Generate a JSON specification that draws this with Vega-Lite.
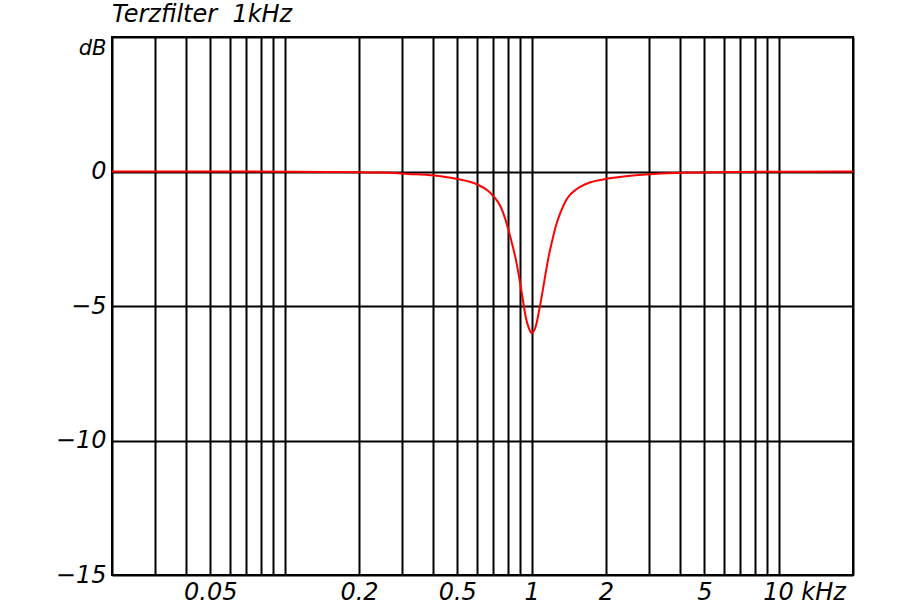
{
  "$schema": "https://vega.github.io/schema/vega-lite/v6.json",
  "autosize": "none",
  "width": 741,
  "height": 538,
  "padding": {"left": 112, "top": 37, "right": 59, "bottom": 33},
  "background": "white",
  "title": {
    "text": "Terzfilter \u00a01kHz",
    "anchor": "start",
    "frame": "group",
    "offset": 10,
    "font": "DejaVu Sans",
    "fontStyle": "italic",
    "fontWeight": "normal",
    "fontSize": 24,
    "color": "black"
  },
  "config": {
    "view": {"stroke": "black", "strokeWidth": 2},
    "axis": {
      "domain": false,
      "ticks": false,
      "grid": true,
      "gridColor": "black",
      "gridWidth": 2,
      "gridOpacity": 1,
      "labelFont": "DejaVu Sans",
      "labelFontStyle": "italic",
      "labelFontSize": 24,
      "labelColor": "black",
      "labelOverlap": false,
      "labelFlush": false,
      "title": null
    }
  },
  "data": {
    "values": [
      {"f": 0.02, "db": 0},
      {"f": 0.05, "db": 0},
      {"f": 0.1, "db": -0.006},
      {"f": 0.15, "db": -0.015},
      {"f": 0.2, "db": -0.03},
      {"f": 0.245, "db": -0.04},
      {"f": 0.315, "db": -0.09},
      {"f": 0.403, "db": -0.15},
      {"f": 0.5, "db": -0.28},
      {"f": 0.604, "db": -0.49},
      {"f": 0.662, "db": -0.7},
      {"f": 0.705, "db": -0.95},
      {"f": 0.75, "db": -1.32},
      {"f": 0.785, "db": -1.81},
      {"f": 0.81, "db": -2.25},
      {"f": 0.836, "db": -2.74},
      {"f": 0.861, "db": -3.23},
      {"f": 0.889, "db": -3.91},
      {"f": 0.917, "db": -4.65},
      {"f": 0.946, "db": -5.4},
      {"f": 0.975, "db": -5.83},
      {"f": 1.0, "db": -6.0},
      {"f": 1.038, "db": -5.77},
      {"f": 1.07, "db": -5.21},
      {"f": 1.104, "db": -4.53},
      {"f": 1.139, "db": -3.79},
      {"f": 1.175, "db": -3.11},
      {"f": 1.212, "db": -2.56},
      {"f": 1.25, "db": -2.06},
      {"f": 1.31, "db": -1.51},
      {"f": 1.39, "db": -1.01},
      {"f": 1.53, "db": -0.64},
      {"f": 1.73, "db": -0.4},
      {"f": 2.02, "db": -0.27},
      {"f": 2.51, "db": -0.16},
      {"f": 3.32, "db": -0.07},
      {"f": 4.0, "db": -0.05},
      {"f": 5.0, "db": -0.035},
      {"f": 7.0, "db": -0.015},
      {"f": 10.0, "db": -0.005},
      {"f": 20.0, "db": 0}
    ]
  },
  "mark": {"type": "line", "color": "#ff0000", "strokeWidth": 2, "clip": true, "interpolate": "monotone"},
  "encoding": {
    "x": {
      "field": "f",
      "type": "quantitative",
      "scale": {"type": "log", "domain": [0.02, 20], "nice": false},
      "axis": {
        "values": [0.02, 0.03, 0.04, 0.05, 0.06, 0.07, 0.08, 0.09, 0.1, 0.2, 0.3, 0.4, 0.5, 0.6, 0.7, 0.8, 0.9, 1, 2, 3, 4, 5, 6, 7, 8, 9, 10, 20],
        "labelExpr": "datum.value == 0.05 ? '0.05' : datum.value == 0.2 ? '0.2' : datum.value == 0.5 ? '0.5' : datum.value == 1 ? '1' : datum.value == 2 ? '2' : datum.value == 5 ? '5' : datum.value == 10 ? '10 kHz' : ''",
        "labelBaseline": "top",
        "labelPadding": 5,
        "labelAlign": {"condition": {"test": "datum.value == 10", "value": "left"}, "value": "center"},
        "labelOffset": {"condition": {"test": "datum.value == 10", "value": -16}, "value": 0}
      }
    },
    "y": {
      "field": "db",
      "type": "quantitative",
      "scale": {"domain": [-15, 5], "nice": false, "zero": false},
      "axis": {
        "values": [-15, -10, -5, 0, 5],
        "labelExpr": "datum.value == 5 ? 'dB' : datum.label",
        "labelPadding": 6,
        "labelBaseline": {"condition": {"test": "datum.value == 5", "value": "top"}, "value": "middle"},
        "labelFontSize": {"condition": {"test": "datum.value == 5", "value": 21}, "value": 24}
      }
    }
  }
}
